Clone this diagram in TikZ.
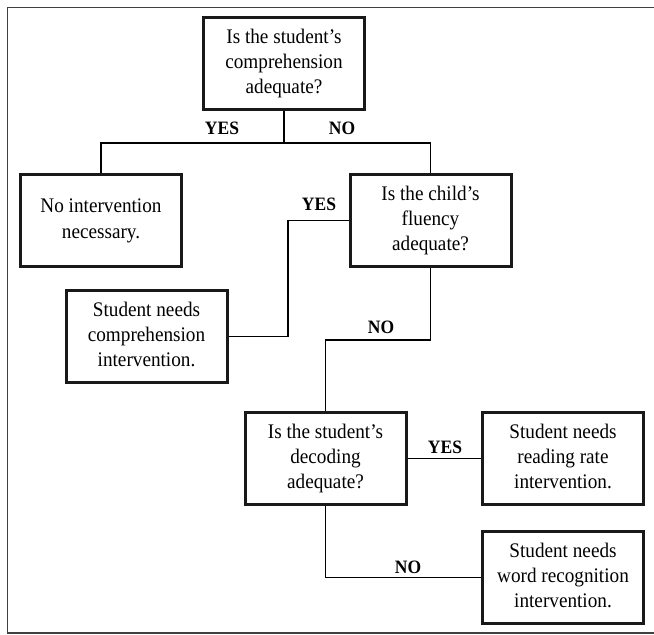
\documentclass[tikz,border=0pt]{standalone}
\usepackage{fontspec}
\usepackage{graphicx}
\setmainfont{Liberation Serif}
\newcommand{\boxtxt}[1]{\scalebox{1}[1.08]{\fontsize{19.2}{23.5}\selectfont\begin{tabular}{@{}c@{}}#1\end{tabular}}}
\newcommand{\lbltxt}[1]{\scalebox{1}[1.08]{\fontsize{17.5}{20}\selectfont\bfseries #1}}
\begin{document}
\begin{tikzpicture}[x=1pt,y=-1pt,
  qbox/.style={draw=black!90,line width=3pt,minimum width=161pt,minimum height=92pt,
    align=center,inner sep=2pt},
  lbl/.style={inner sep=0pt},
  conn/.style={draw=black,line width=1.1pt},
  frame/.style={draw=black!75,line width=1.2pt}]
\useasboundingbox (0,0) rectangle (654,635);
\draw[frame] (654,7.5) -- (7.5,7.5) -- (7.5,633) -- (654,633);

\node[qbox] (top) at (284,63.5) {\boxtxt{Is the student's\\comprehension\\adequate?}};
\node[qbox] (noint) at (101,220.5) {\boxtxt{No intervention\\necessary.}};
\node[qbox] (flu) at (430.5,220.5) {\boxtxt{Is the child's\\fluency\\adequate?}};
\node[qbox] (comp) at (146.5,336.5) {\boxtxt{Student needs\\comprehension\\intervention.}};
\node[qbox] (dec) at (325.5,458.5) {\boxtxt{Is the student's\\decoding\\adequate?}};
\node[qbox] (rate) at (563,458.5) {\boxtxt{Student needs\\reading rate\\intervention.}};
\node[qbox] (word) at (563,577.5) {\boxtxt{Student needs\\word recognition\\intervention.}};

\coordinate (j1) at (284,143);
\coordinate (c1) at (288,220.5);
\coordinate (j2) at (430.5,340);

\draw[conn] (top.south) -- (j1);
\draw[conn] (noint.north) |- (j1) -| (flu.north);
\draw[conn] (flu.west) -- (c1) |- (comp.east);
\draw[conn] (flu.south) -- (j2) -| (dec.north);
\draw[conn] (dec.east) -- (rate.west);
\draw[conn] (dec.south) |- (word.west);

\node[lbl] (y1) at (222,128) {\lbltxt{YES}};
\node[lbl] (n1) at (342,128) {\lbltxt{NO}};
\node[lbl] (y2) at (319,204) {\lbltxt{YES}};
\node[lbl] (n2) at (381,327) {\lbltxt{NO}};
\node[lbl] (y3) at (445,447) {\lbltxt{YES}};
\node[lbl] (n3) at (408,567) {\lbltxt{NO}};
\end{tikzpicture}
\end{document}
